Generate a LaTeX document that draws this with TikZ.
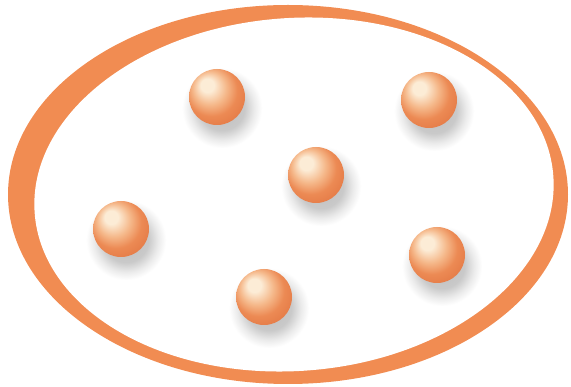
\documentclass[tikz,border=0pt]{standalone}
\usepackage{tikz}

\definecolor{ringorange}{RGB}{241,140,82}
\definecolor{spherehi}{RGB}{252,236,214}
\definecolor{spheremid}{RGB}{245,184,138}
\definecolor{spherebody}{RGB}{236,138,84}
\definecolor{spheredeep}{RGB}{228,122,70}

\pgfdeclareradialshading{spherefill}{\pgfpoint{-10bp}{12bp}}{%
  color(0bp)=(spherehi); color(6bp)=(spherehi); color(15bp)=(spheremid);
  color(23bp)=(spherebody); color(32bp)=(spheredeep); color(45bp)=(spheredeep)}
\pgfdeclareradialshading{spherehalo}{\pgfpointorigin}{%
  color(0bp)=(black!26); color(14bp)=(black!21); color(20bp)=(black!8);
  color(25bp)=(white); color(40bp)=(white)}

\begin{document}
\begin{tikzpicture}[x=1pt, y=-1pt,
  sphere/.style={circle, minimum size=56pt, inner sep=0pt, shading=spherefill},
  sphereshadow/.style={circle, minimum size=80pt, inner sep=0pt,
    shading=spherehalo, xshift=5pt, yshift=-11pt}]

  \useasboundingbox (0,0) rectangle (571,387);

  % ring
  \fill[ringorange] (288,194.5) ellipse [x radius=280, y radius=189.5];
  \fill[white, rotate around={4:(294,194.5)}]
    (294,194.5) ellipse [x radius=260, y radius=176.5];

  % shadows
  \node[sphereshadow] (sA) at (217,97)  {};
  \node[sphereshadow] (sB) at (429,100) {};
  \node[sphereshadow] (sC) at (316,175) {};
  \node[sphereshadow] (sD) at (121,229) {};
  \node[sphereshadow] (sE) at (437,255) {};
  \node[sphereshadow] (sF) at (264,297) {};

  % spheres
  \node[sphere] (A) at (217,97)  {};
  \node[sphere] (B) at (429,100) {};
  \node[sphere] (C) at (316,175) {};
  \node[sphere] (D) at (121,229) {};
  \node[sphere] (E) at (437,255) {};
  \node[sphere] (F) at (264,297) {};
\end{tikzpicture}
\end{document}
